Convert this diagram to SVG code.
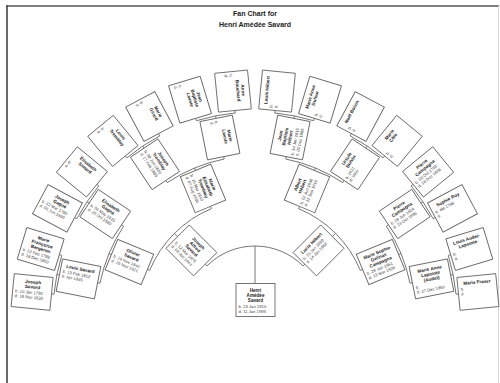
<svg xmlns="http://www.w3.org/2000/svg" width="500" height="383" viewBox="0 0 500 383">
<style>
.bx rect{fill:#fff;stroke:#666;stroke-width:0.9}
.n{font-family:"Liberation Sans",Arial,sans-serif;font-weight:bold;font-size:4.6px;fill:#222;text-anchor:middle}
.d{font-family:"Liberation Sans",Arial,sans-serif;font-size:4.2px;fill:#444}
.t{font-family:"Liberation Sans",Arial,sans-serif;font-weight:bold;font-size:7px;fill:#222;text-anchor:middle}
.c path{fill:none;stroke:#666;stroke-width:0.9}
.fr{fill:none;stroke-linecap:square}
</style>
<rect width="500" height="383" fill="#fff"/>
<g id="frame">
<line class="fr" x1="7" y1="6" x2="498.5" y2="6" stroke="#555" stroke-width="1.4"/>
<line class="fr" x1="7" y1="6" x2="7" y2="383" stroke="#444" stroke-width="1.6"/>
<line class="fr" x1="498.5" y1="6" x2="498.5" y2="383" stroke="#ccc" stroke-width="0.8"/>
</g>
<g id="title">
<text class="t" x="255" y="15.8">Fan Chart for</text>
<text class="t" x="255" y="26.5">Henri Amédée Savard</text>
</g>
<g id="connectors" class="c">
<path d="M255,283.5 L255,246"/>
<path d="M205.15,264.15 L206.92,265.92 A68,68 0 0 1 303.08,265.92 L304.85,264.15"/>
<path d="M177.57,236.57 L174.39,233.39"/>
<path d="M147.37,269.42 L149.68,270.37 A114,114 0 0 1 211.37,208.68 L210.42,206.37"/>
<path d="M332.43,236.57 L335.61,233.39"/>
<path d="M299.58,206.37 L298.63,208.68 A114,114 0 0 1 360.32,270.37 L362.63,269.42"/>
<path d="M111.34,254.49 L109.03,253.54"/>
<path d="M97.58,282.69 L100.03,283.17 A158,158 0 0 1 123.62,226.22 L121.54,224.83"/>
<path d="M195.49,170.34 L194.54,168.03"/>
<path d="M165.83,180.54 L167.22,182.62 A158,158 0 0 1 224.17,159.03 L223.69,156.58"/>
<path d="M314.51,170.34 L315.46,168.03"/>
<path d="M286.31,156.58 L285.83,159.03 A158,158 0 0 1 342.78,182.62 L344.17,180.54"/>
<path d="M398.66,254.49 L400.97,253.54"/>
<path d="M388.46,224.83 L386.38,226.22 A158,158 0 0 1 409.97,283.17 L412.42,282.69"/>
<path d="M59.33,275.08 L56.88,274.59"/>
<path d="M51.48,293.96 L53.97,294.2 A202,202 0 0 1 61.71,255.36 L59.31,254.63"/>
<path d="M89.12,203.16 L87.04,201.77"/>
<path d="M74.65,217.6 L76.86,218.78 A202,202 0 0 1 98.85,185.85 L96.92,184.27"/>
<path d="M144.16,148.12 L142.77,146.04"/>
<path d="M125.27,155.92 L126.85,157.85 A202,202 0 0 1 159.78,135.86 L158.6,133.65"/>
<path d="M216.08,118.33 L215.59,115.88"/>
<path d="M195.63,118.31 L196.36,120.71 A202,202 0 0 1 235.2,112.97 L234.96,110.48"/>
<path d="M293.92,118.33 L294.41,115.88"/>
<path d="M275.04,110.48 L274.8,112.97 A202,202 0 0 1 313.64,120.71 L314.37,118.31"/>
<path d="M365.84,148.12 L367.23,146.04"/>
<path d="M351.4,133.65 L350.22,135.86 A202,202 0 0 1 383.15,157.85 L384.73,155.92"/>
<path d="M420.88,203.16 L422.96,201.77"/>
<path d="M413.08,184.27 L411.15,185.85 A202,202 0 0 1 433.14,218.78 L435.35,217.6"/>
<path d="M450.67,275.08 L453.12,274.59"/>
<path d="M450.69,254.63 L448.29,255.36 A202,202 0 0 1 456.03,294.2 L458.52,293.96"/>
</g>
<g id="p1" class="bx" transform="translate(255.5,300)"><rect x="-19.5" y="-16.5" width="39" height="33"/><text class="n" y="-8.5">Henri</text><text class="n" y="-3.5">Amédée</text><text class="n" y="1.5">Savard</text><text class="d" x="-17" y="7.5">b. 23 Jan 1910</text><text class="d" x="-17" y="12.5">d. 11 Jan 1993</text></g>
<g id="p2" class="bx" transform="translate(191.4,250.4) rotate(45)"><rect x="-19.5" y="-16.5" width="39" height="33"/><text class="n" y="-8.5">Joseph</text><text class="n" y="-3.5">Alfred</text><text class="n" y="1.5">Savard</text><text class="d" x="-17" y="7">b. 12 Mar 1875</text><text class="d" x="-17" y="11.8">d. 03 Jun 1944</text></g>
<g id="p3" class="bx" transform="translate(318.6,250.4) rotate(-45)"><rect x="-19.5" y="-16.5" width="39" height="33"/><text class="n" y="-8.5">Lucie Hébert</text><text class="d" x="-17" y="-3">b. 31 Jan 1880</text><text class="d" x="-17" y="1.8">d. 14 Jan 1958</text></g>
<g id="p4" class="bx" transform="translate(129.4,262) rotate(22.5)"><rect x="-19.5" y="-16.5" width="39" height="33"/><text class="n" y="-8.5">Olivier</text><text class="n" y="-3.5">Savard</text><text class="d" x="-17" y="2">b. 28 Nov 1844</text><text class="d" x="-17" y="6.8">d. 29 Nov 1921</text></g>
<g id="p5" class="bx" transform="translate(203,188.4) rotate(67.5)"><rect x="-19.5" y="-16.5" width="39" height="33"/><text class="n" y="-8.5">Marie</text><text class="n" y="-3.5">Élisabeth</text><text class="n" y="1.5">Tremblay</text><text class="d" x="-17" y="7">b. 15 Mar 1849</text><text class="d" x="-17" y="11.8">d. 07 Aug 1930</text></g>
<g id="p6" class="bx" transform="translate(307,188.4) rotate(-67.5)"><rect x="-19.5" y="-16.5" width="39" height="33"/><text class="n" y="-8.5">Albert</text><text class="n" y="-3.5">Hébert</text><text class="d" x="-17" y="2">b. 02 Jun 1848</text><text class="d" x="-17" y="6.8">d. 11 Sep 1919</text></g>
<g id="p7" class="bx" transform="translate(380.6,262) rotate(-22.5)"><rect x="-19.5" y="-16.5" width="39" height="33"/><text class="n" y="-8.5">Marie Sophie</text><text class="n" y="-3.5">Gelinas</text><text class="n" y="1.5">Campagna</text><text class="d" x="-17" y="7">b. 28 Jan 1851</text><text class="d" x="-17" y="11.8">d. 13 Mar 1926</text></g>
<g id="p8" class="bx" transform="translate(78.5,278.9) rotate(11.25)"><rect x="-19.5" y="-16.5" width="39" height="33"/><text class="n" y="-8.5">Louis Savard</text><text class="d" x="-17" y="-3">b. 13 Feb 1812</text><text class="d" x="-17" y="1.8">d. Apr 1845</text></g>
<g id="p9" class="bx" transform="translate(105.3,214) rotate(33.75)"><rect x="-19.5" y="-16.5" width="39" height="33"/><text class="n" y="-8.5">Élisabeth</text><text class="n" y="-3.5">Gagné</text><text class="d" x="-17" y="2">b. 04 May 1815</text><text class="d" x="-17" y="6.8">d. 20 Oct 1880</text></g>
<g id="p10" class="bx" transform="translate(155,164.3) rotate(56.25)"><rect x="-19.5" y="-16.5" width="39" height="33"/><text class="n" y="-8.5">Joseph</text><text class="n" y="-3.5">Tremblay</text><text class="d" x="-17" y="2">b. 08 Jan 1820</text><text class="d" x="-17" y="6.8">d. 17 Feb 1889</text></g>
<g id="p11" class="bx" transform="translate(219.9,137.5) rotate(78.75)"><rect x="-19.5" y="-16.5" width="39" height="33"/><text class="n" y="-8.5">Marie</text><text class="n" y="-3.5">Lavoie</text><text class="d" x="-17" y="2">b.</text><text class="d" x="-17" y="6.8">d.</text></g>
<g id="p12" class="bx" transform="translate(290.1,137.5) rotate(-78.75)"><rect x="-19.5" y="-16.5" width="39" height="33"/><text class="n" y="-8.5">Jean</text><text class="n" y="-3.5">Baptiste</text><text class="n" y="1.5">Hébert</text><text class="d" x="-17" y="7">b. 14 Jan 1815</text><text class="d" x="-17" y="11.8">d. 02 Dec 1885</text></g>
<g id="p13" class="bx" transform="translate(355,164.3) rotate(-56.25)"><rect x="-19.5" y="-16.5" width="39" height="33"/><text class="n" y="-8.5">Ursule</text><text class="n" y="-3.5">Boivin</text><text class="d" x="-17" y="2">b. 1821</text><text class="d" x="-17" y="6.8">d. 1890</text></g>
<g id="p14" class="bx" transform="translate(404.7,214) rotate(-33.75)"><rect x="-19.5" y="-16.5" width="39" height="33"/><text class="n" y="-8.5">Pierre</text><text class="n" y="-3.5">Campagna</text><text class="d" x="-17" y="2">b. 28 Jun 1824</text><text class="d" x="-17" y="6.8">d. 23 Oct 1895</text></g>
<g id="p15" class="bx" transform="translate(431.5,278.9) rotate(-11.25)"><rect x="-19.5" y="-16.5" width="39" height="33"/><text class="n" y="-8.5">Marie Anne</text><text class="n" y="-3.5">Lapointe</text><text class="n" y="1.5">(Audet)</text><text class="d" x="-17" y="7">b.</text><text class="d" x="-17" y="11.8">d. 27 Dec 1850</text></g>
<g id="p16" class="bx" transform="translate(32.1,292) rotate(5.625)"><rect x="-19.5" y="-16.5" width="39" height="33"/><text class="n" y="-8.5">Joseph</text><text class="n" y="-3.5">Savard</text><text class="d" x="-17" y="2">b. 10 Jan 1780</text><text class="d" x="-17" y="6.8">d. 18 Nov 1832</text></g>
<g id="p17" class="bx" transform="translate(40.7,249) rotate(16.875)"><rect x="-19.5" y="-16.5" width="39" height="33"/><text class="n" y="-8.5">Marie</text><text class="n" y="-3.5">Françoise</text><text class="n" y="1.5">Bergeron</text><text class="d" x="-17" y="7">b. 10 Feb 1788</text><text class="d" x="-17" y="11.8">d. 18 Dec 1850</text></g>
<g id="p18" class="bx" transform="translate(57.5,208.4) rotate(28.125)"><rect x="-19.5" y="-16.5" width="39" height="33"/><text class="n" y="-8.5">Joseph</text><text class="n" y="-3.5">Gagné</text><text class="d" x="-17" y="2">b. 12 Mar 1790</text><text class="d" x="-17" y="6.8">d. 05 Jun 1860</text></g>
<g id="p19" class="bx" transform="translate(81.9,171.9) rotate(39.375)"><rect x="-19.5" y="-16.5" width="39" height="33"/><text class="n" y="-8.5">Élisabeth</text><text class="n" y="-3.5">Simard</text><text class="d" x="-17" y="2">b.</text><text class="d" x="-17" y="6.8">d.</text></g>
<g id="p20" class="bx" transform="translate(112.9,140.9) rotate(50.625)"><rect x="-19.5" y="-16.5" width="39" height="33"/><text class="n" y="-8.5">Louis</text><text class="n" y="-3.5">Tremblay</text><text class="d" x="-17" y="2">b.</text><text class="d" x="-17" y="6.8">d.</text></g>
<g id="p21" class="bx" transform="translate(149.4,116.5) rotate(61.875)"><rect x="-19.5" y="-16.5" width="39" height="33"/><text class="n" y="-8.5">Marie</text><text class="n" y="-3.5">Girard</text><text class="d" x="-17" y="2">b.</text><text class="d" x="-17" y="6.8">d.</text></g>
<g id="p22" class="bx" transform="translate(190,99.7) rotate(73.125)"><rect x="-19.5" y="-16.5" width="39" height="33"/><text class="n" y="-8.5">Jean</text><text class="n" y="-3.5">Baptiste</text><text class="n" y="1.5">Lavoie</text><text class="d" x="-17" y="7">b.</text><text class="d" x="-17" y="11.8">d.</text></g>
<g id="p23" class="bx" transform="translate(233,91.1) rotate(84.375)"><rect x="-19.5" y="-16.5" width="39" height="33"/><text class="n" y="-8.5">Anne</text><text class="n" y="-3.5">Bouchard</text><text class="d" x="-17" y="2">b.</text><text class="d" x="-17" y="6.8">d.</text></g>
<g id="p24" class="bx" transform="translate(277,91.1) rotate(-84.375)"><rect x="-19.5" y="-16.5" width="39" height="33"/><text class="n" y="-8.5">Louis Hébert</text><text class="d" x="-17" y="-3">b.</text><text class="d" x="-17" y="1.8">d.</text></g>
<g id="p25" class="bx" transform="translate(320,99.7) rotate(-73.125)"><rect x="-19.5" y="-16.5" width="39" height="33"/><text class="n" y="-8.5">Marie Anne</text><text class="n" y="-3.5">Dufour</text><text class="d" x="-17" y="2">b.</text><text class="d" x="-17" y="6.8">d.</text></g>
<g id="p26" class="bx" transform="translate(360.6,116.5) rotate(-61.875)"><rect x="-19.5" y="-16.5" width="39" height="33"/><text class="n" y="-8.5">Noël Boivin</text><text class="d" x="-17" y="-3">b.</text><text class="d" x="-17" y="1.8">d.</text></g>
<g id="p27" class="bx" transform="translate(397.1,140.9) rotate(-50.625)"><rect x="-19.5" y="-16.5" width="39" height="33"/><text class="n" y="-8.5">Marie</text><text class="n" y="-3.5">Côté</text><text class="d" x="-17" y="2">b.</text><text class="d" x="-17" y="6.8">d.</text></g>
<g id="p28" class="bx" transform="translate(428.1,171.9) rotate(-39.375)"><rect x="-19.5" y="-16.5" width="39" height="33"/><text class="n" y="-8.5">Pierre</text><text class="n" y="-3.5">Campagna</text><text class="d" x="-17" y="2">b. 18 Oct 1790</text><text class="d" x="-17" y="6.8">d. 18 Dec 1856</text></g>
<g id="p29" class="bx" transform="translate(452.5,208.4) rotate(-28.125)"><rect x="-19.5" y="-16.5" width="39" height="33"/><text class="n" y="-8.5">Sophie Roy</text><text class="d" x="-17" y="-3">b. abt 1798</text><text class="d" x="-17" y="1.8">d.</text></g>
<g id="p30" class="bx" transform="translate(469.3,249) rotate(-16.875)"><rect x="-19.5" y="-16.5" width="39" height="33"/><text class="n" y="-8.5">Louis Audet-</text><text class="n" y="-3.5">Lapointe</text><text class="d" x="-17" y="2">b.</text><text class="d" x="-17" y="6.8">d.</text></g>
<g id="p31" class="bx" transform="translate(477.9,292) rotate(-5.625)"><rect x="-19.5" y="-16.5" width="39" height="33"/><text class="n" y="-8.5">Marie Fraser</text><text class="d" x="-17" y="-3">b.</text><text class="d" x="-17" y="1.8">d.</text></g>
</svg>
